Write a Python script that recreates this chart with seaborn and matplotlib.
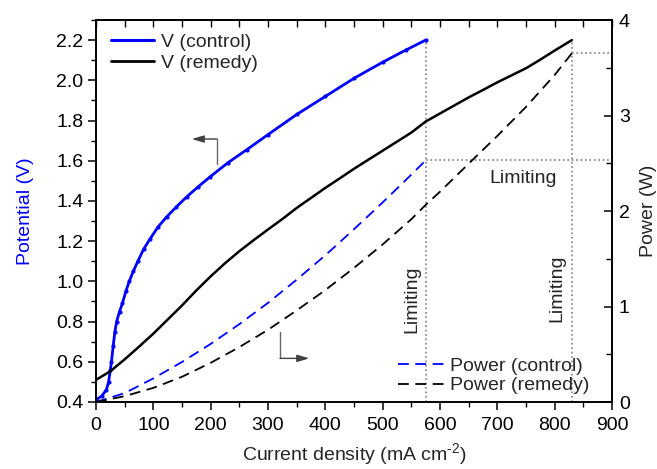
import matplotlib
matplotlib.use("Agg")
import matplotlib.pyplot as plt
from matplotlib.lines import Line2D
from matplotlib.ticker import MultipleLocator, FormatStrFormatter
import seaborn as sns

# Polarisation curves (current density in mA cm^-2, potential in V)
current_control = [0, 10, 18, 22, 25, 27, 30, 33, 36, 41, 46, 52, 58, 65, 73, 83,
                   94, 108, 123, 140, 158, 178, 199, 230, 263, 300, 350, 400, 450,
                   500, 540, 575]
potential_control = [0.41, 0.43, 0.46, 0.50, 0.56, 0.60, 0.68, 0.75, 0.80, 0.85,
                     0.89, 0.95, 1.00, 1.05, 1.10, 1.16, 1.21, 1.27, 1.32, 1.37,
                     1.42, 1.47, 1.52, 1.59, 1.655, 1.73, 1.83, 1.92, 2.01, 2.09,
                     2.15, 2.20]

current_remedy = [0, 25, 50, 75, 100, 125, 150, 175, 200, 225, 250, 275, 300, 325,
                  350, 375, 400, 425, 450, 475, 500, 525, 550, 575, 600, 625, 650,
                  675, 700, 725, 750, 775, 800, 815, 830]
potential_remedy = [0.51, 0.553, 0.612, 0.675, 0.74, 0.81, 0.88, 0.955, 1.025, 1.09,
                    1.15, 1.205, 1.258, 1.31, 1.365, 1.415, 1.465, 1.512, 1.56, 1.605,
                    1.65, 1.695, 1.74, 1.795, 1.835, 1.875, 1.915, 1.952, 1.99, 2.025,
                    2.06, 2.103, 2.148, 2.174, 2.20]

# Power curves (W)
power_current_control = [0, 50, 100, 150, 200, 250, 300, 350, 400, 450, 500, 540, 575]
power_control = [0.0, 0.093, 0.247, 0.419, 0.608, 0.815, 1.038, 1.281, 1.536, 1.809,
                 2.09, 2.322, 2.53]

power_current_remedy = [0, 50, 100, 150, 200, 250, 300, 350, 400, 450, 500, 550, 575,
                        600, 650, 700, 750, 800, 830]
power_remedy = [0.0, 0.061, 0.148, 0.264, 0.41, 0.575, 0.756, 0.959, 1.172, 1.404,
                1.65, 1.914, 2.064, 2.202, 2.496, 2.786, 3.09, 3.424, 3.652]

sns.set_style("ticks")
plt.rcParams["font.family"] = ["Liberation Sans", "DejaVu Sans"]
plt.rcParams["mathtext.default"] = "regular"
plt.rcParams["axes.edgecolor"] = "black"
plt.rcParams["axes.linewidth"] = 1.2
plt.rcParams["xtick.color"] = "black"
plt.rcParams["ytick.color"] = "black"

BLUE = "#0000ff"
GRID = "#808080"
FS = 14
DASH = (0, (6, 3.6))

fig = plt.figure(figsize=(6.57, 4.69), dpi=100)
ax = fig.add_axes([96 / 657, 1 - 402 / 469, 516 / 657, 382 / 469])
ax2 = ax.twinx()

# potential curves
sns.lineplot(x=current_control, y=potential_control, ax=ax, color=BLUE, lw=2.0,
             marker="o", markersize=3, markeredgewidth=0, sort=False, estimator=None)
sns.lineplot(x=current_remedy, y=potential_remedy, ax=ax, color="black", lw=1.8,
             sort=False, estimator=None)

# power curves
sns.lineplot(x=power_current_control, y=power_control, ax=ax2, color=BLUE, lw=1.3,
             linestyle=DASH, sort=False, estimator=None)
sns.lineplot(x=power_current_remedy, y=power_remedy, ax=ax2, color="black", lw=1.3,
             linestyle=DASH, sort=False, estimator=None)

# limiting current guides
for xs, vs in ((current_control, potential_control), (current_remedy, potential_remedy)):
    ax.plot([xs[-1], xs[-1]], [0.4, vs[-1]], color=GRID, lw=1.2, ls=":", zorder=1)
for xs, ps in ((power_current_control, power_control), (power_current_remedy, power_remedy)):
    ax2.plot([xs[-1], 900], [ps[-1], ps[-1]], color=GRID, lw=1.2, ls=":", zorder=1)

ax.text(551, 0.912, "Limiting", rotation=90, ha="center", va="center", fontsize=FS)
ax.text(804, 0.967, "Limiting", rotation=90, ha="center", va="center", fontsize=FS)
ax2.text(745, 2.345, "Limiting", ha="center", va="center", fontsize=FS)

# axis pointers
arrow = dict(arrowstyle="-|>,head_length=0.6,head_width=0.18", color="0.25",
             lw=1.0, mutation_scale=12, shrinkA=0, shrinkB=0)
ax.plot([211, 211], [1.584, 1.708], color="0.4", lw=1.0)
ax.annotate("", xy=(167, 1.708), xytext=(211, 1.708), arrowprops=arrow)
ax.plot([321, 321], [0.617, 0.748], color="0.4", lw=1.0)
ax.annotate("", xy=(372, 0.617), xytext=(321, 0.617), arrowprops=arrow)

# axes limits and ticks
ax.set_xlim(0, 900)
ax.set_ylim(0.4, 2.3)
ax2.set_ylim(0, 4)
ax.xaxis.set_major_locator(MultipleLocator(100))
ax.xaxis.set_minor_locator(MultipleLocator(50))
ax.yaxis.set_major_locator(MultipleLocator(0.2))
ax.yaxis.set_minor_locator(MultipleLocator(0.1))
ax.yaxis.set_major_formatter(FormatStrFormatter("%.1f"))
ax2.yaxis.set_major_locator(MultipleLocator(1))
ax2.yaxis.set_minor_locator(MultipleLocator(0.5))

ax.tick_params(axis="both", which="major", direction="out", length=6, width=1.1,
               labelsize=FS, pad=3, top=False, right=False)
ax.tick_params(axis="x", which="major", pad=5)
ax.tick_params(axis="both", which="minor", direction="out", length=3.5, width=1.0,
               top=False, right=False)
ax2.tick_params(axis="y", which="major", direction="in", length=6, width=1.1,
                labelsize=FS, pad=5)
ax2.tick_params(axis="y", which="minor", direction="in", length=4, width=1.0)

top = ax.secondary_xaxis("top")
top.xaxis.set_major_locator(MultipleLocator(100))
top.xaxis.set_minor_locator(MultipleLocator(50))
top.tick_params(axis="x", which="both", direction="in", length=5, width=1.0,
                labeltop=False)

for a in (ax, ax2):
    for s in a.spines.values():
        s.set_visible(True)
        s.set_color("black")
        s.set_linewidth(1.2)

ax.set_xlabel("Current density (mA cm$^{\u2010 2}$)", fontsize=FS, labelpad=5)
ax.set_ylabel("Potential (V)", fontsize=FS, color=BLUE, labelpad=16)
ax2.set_ylabel("Power (W)", fontsize=FS, labelpad=7)

# legends
v_handles = [Line2D([], [], color=BLUE, lw=2.2), Line2D([], [], color="black", lw=2.0)]
leg1 = ax.legend(v_handles, ["V (control)", "V (remedy)"], loc="upper left",
                 bbox_to_anchor=(0.03, 0.965), frameon=False, fontsize=FS,
                 handlelength=2.2, handletextpad=0.35, labelspacing=0.15,
                 borderpad=0, borderaxespad=0)
p_handles = [Line2D([], [], color=BLUE, lw=1.3, ls=DASH),
             Line2D([], [], color="black", lw=1.3, ls=DASH)]
leg2 = ax2.legend(p_handles, ["Power (control)", "Power (remedy)"], loc="lower left",
                  bbox_to_anchor=(0.585, 0.02), frameon=False, fontsize=FS,
                  handlelength=2.4, handletextpad=0.3, labelspacing=0.1,
                  borderpad=0, borderaxespad=0)

fig.savefig("out.png", dpi=100)
